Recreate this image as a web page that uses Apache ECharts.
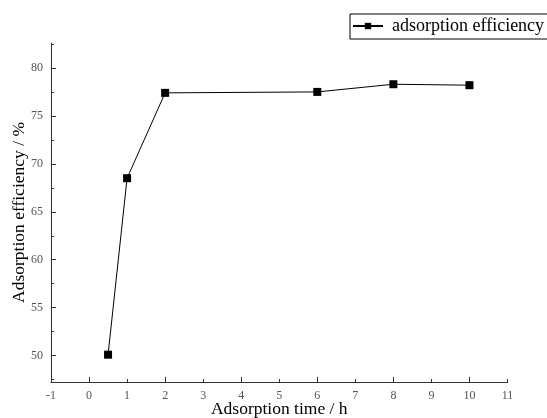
<!DOCTYPE html>
<html><head><meta charset="utf-8">
<script src="https://cdn.jsdelivr.net/npm/echarts@6/dist/echarts.min.js"></script>
<style>html,body{margin:0;padding:0;background:#fff}#c{width:547px;height:418px}</style>
</head><body><div id="c"></div>
<script>
const seriesName = 'adsorption efficiency';
const timeHours = [0.5, 1, 2, 6, 8, 10];
const efficiency = [50.1, 68.5, 77.4, 77.5, 78.3, 78.2];
const xLabelValues = [-1,0,1,2,3,4,5,6,7,8,9,10,11];
const xMajorTicks = [0,2,4,6,8,10];
const xMinorTicks = [-1,1,3,5,7,9,11];
const yLabelValues = [50,55,60,65,70,75,80];
const yMinorTicks = [47.5,52.5,57.5,62.5,67.5,72.5,77.5,82.5];

const serif = '"Liberation Serif", "Times New Roman", serif';
const chart = echarts.init(document.getElementById('c'), null, {renderer:'canvas'});
const xRange = {min:-1, max:11};
const yRange = {min:47.25, max:82.6};
chart.setOption({
  animation:false,
  backgroundColor:'#fff',
  grid:{left:51, right:39.5, top:43, bottom:36, containLabel:false, outerBoundsMode:'none'},
  legend:{
    left:350, top:14, itemWidth:30, itemHeight:8, itemGap:0,
    padding:[3,4,4,2], borderColor:'#000', borderWidth:1,
    textStyle:{fontFamily:serif, fontSize:18, color:'#000', padding:[0,0,0,4]},
    data:[seriesName]
  },
  xAxis:[{
    type:'value', ...xRange,
    name:'Adsorption time / h', nameLocation:'middle', nameGap:18, nameMoveOverlap:false,
    nameTextStyle:{fontFamily:serif, fontSize:17.5, color:'#000'},
    axisLine:{show:true, onZero:false, lineStyle:{color:'#333', width:1}},
    axisTick:{show:true, inside:true, length:5, customValues:xMajorTicks, lineStyle:{color:'#333'}},
    axisLabel:{customValues:xLabelValues, margin:8, fontFamily:serif, fontSize:12, color:'#555'},
    splitLine:{show:false}
  },{
    type:'value', ...xRange, position:'bottom',
    axisLine:{show:false, onZero:false},
    axisTick:{show:true, inside:true, length:3, customValues:xMinorTicks, lineStyle:{color:'#333'}},
    axisLabel:{show:false}, splitLine:{show:false}
  }],
  yAxis:[{
    type:'value', ...yRange,
    name:'Adsorption efficiency / %', nameLocation:'middle', nameGap:23, nameMoveOverlap:false,
    nameTextStyle:{fontFamily:serif, fontSize:17.5, color:'#000'},
    axisLine:{show:true, onZero:false, lineStyle:{color:'#333', width:1}},
    axisTick:{show:true, inside:true, length:5, customValues:yLabelValues, lineStyle:{color:'#333'}},
    axisLabel:{customValues:yLabelValues, margin:8, fontFamily:serif, fontSize:12, color:'#555'},
    splitLine:{show:false}
  },{
    type:'value', ...yRange, position:'left',
    axisLine:{show:false, onZero:false},
    axisTick:{show:true, inside:true, length:3, customValues:yMinorTicks, lineStyle:{color:'#333'}},
    axisLabel:{show:false}, splitLine:{show:false}
  }],
  series:[{
    name:seriesName, type:'line',
    data:timeHours.map((t,i)=>[t, efficiency[i]]),
    symbol:'rect', symbolSize:8,
    lineStyle:{color:'#000', width:1},
    itemStyle:{color:'#000'}
  }]
});
</script></body></html>
